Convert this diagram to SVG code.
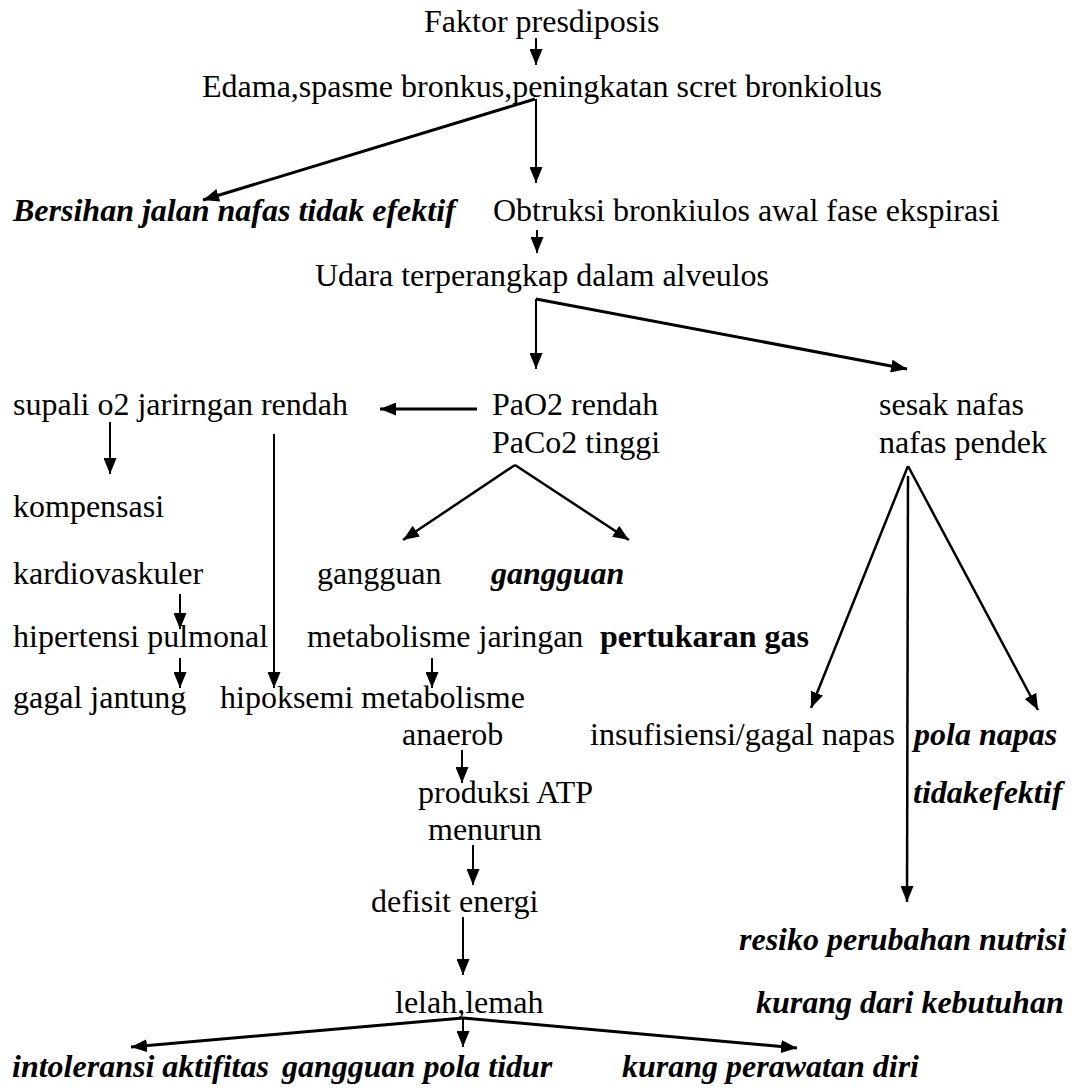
<svg xmlns="http://www.w3.org/2000/svg" width="1078" height="1088" viewBox="0 0 1078 1088">
<defs>
<marker id="ah" markerUnits="userSpaceOnUse" viewBox="0 0 16 13" markerWidth="16" markerHeight="13" refX="16" refY="6.5" orient="auto">
<path d="M0,0 L16,6.5 L0,13 Z" fill="#000"/>
</marker>
<style>
text{font-family:"Liberation Serif","Times New Roman",serif;font-size:32px;fill:#000}
.bi{font-weight:bold;font-style:italic}
.b{font-weight:bold}
.c line{stroke:#000;stroke-width:2;marker-end:url(#ah);fill:none}
.c line.t{stroke-width:3}
.c line.m{stroke-width:2.5}
</style>
</defs>
<rect width="1078" height="1088" fill="#fff"/>
<g font-family="Liberation Serif, Times New Roman, serif">
<g id="n-faktor"><text x="424" y="32">Faktor presdiposis</text></g>
<g id="n-edama"><text x="202" y="97">Edama,spasme bronkus,peningkatan scret bronkiolus</text></g>
<g id="n-bersihan"><text class="bi" x="13" y="221">Bersihan jalan nafas tidak efektif</text></g>
<g id="n-obtruksi"><text x="493" y="221">Obtruksi bronkiulos awal fase ekspirasi</text></g>
<g id="n-udara"><text x="315" y="286">Udara terperangkap dalam alveulos</text></g>
<g id="n-supali"><text x="13" y="415">supali o2 jarirngan rendah</text></g>
<g id="n-pao2"><text x="492" y="415">PaO2 rendah</text><text x="492" y="453">PaCo2 tinggi</text></g>
<g id="n-sesak"><text x="879" y="415">sesak nafas</text><text x="879" y="453">nafas pendek</text></g>
<g id="n-kompensasi"><text x="13" y="517">kompensasi</text><text x="13" y="584">kardiovaskuler</text></g>
<g id="n-gangguan-metab"><text x="317" y="584">gangguan</text><text x="307" y="647">metabolisme jaringan</text></g>
<g id="n-gangguan-gas"><text class="bi" x="491" y="584">gangguan</text><text class="b" x="600" y="647">pertukaran gas</text></g>
<g id="n-hipertensi"><text x="13" y="647">hipertensi pulmonal</text></g>
<g id="n-gagal"><text x="13" y="708">gagal jantung</text></g>
<g id="n-hipoksemi"><text x="220" y="708">hipoksemi metabolisme</text><text x="402" y="745">anaerob</text></g>
<g id="n-insufisiensi"><text x="590" y="745">insufisiensi/gagal napas</text></g>
<g id="n-pola"><text class="bi" x="914" y="745">pola napas</text><text class="bi" x="913" y="803">tidakefektif</text></g>
<g id="n-atp"><text x="418" y="803">produksi ATP</text><text x="428" y="840">menurun</text></g>
<g id="n-defisit"><text x="371" y="912">defisit energi</text></g>
<g id="n-nutrisi"><text class="bi" x="739" y="950">resiko perubahan nutrisi</text><text class="bi" x="756" y="1013">kurang dari kebutuhan</text></g>
<g id="n-lelah"><text x="395" y="1013">lelah,lemah</text></g>
<g id="n-intoleransi"><text class="bi" x="12" y="1077">intoleransi aktifitas</text></g>
<g id="n-tidur"><text class="bi" x="282" y="1077">gangguan pola tidur</text></g>
<g id="n-perawatan"><text class="bi" x="622" y="1077">kurang perawatan diri</text></g>
</g>
<g id="connectors" class="c">
<line x1="536" y1="38" x2="536" y2="65"/>
<line x1="536" y1="99" x2="536" y2="183"/>
<line class="t" x1="535" y1="99" x2="203" y2="200"/>
<line x1="537" y1="230" x2="537" y2="253"/>
<line x1="536" y1="299" x2="536" y2="369"/>
<line class="t" x1="536" y1="299" x2="907" y2="369"/>
<line class="t" x1="477" y1="409" x2="380" y2="409"/>
<line x1="110" y1="422" x2="110" y2="474"/>
<line x1="274" y1="434" x2="274" y2="688"/>
<line class="m" x1="515" y1="465" x2="403" y2="540"/>
<line class="m" x1="515" y1="465" x2="629" y2="540"/>
<line x1="180" y1="594" x2="180" y2="629"/>
<line x1="180" y1="658" x2="180" y2="688"/>
<line x1="432" y1="658" x2="432" y2="688"/>
<line class="m" x1="908" y1="466" x2="811" y2="708"/>
<line class="m" x1="908" y1="476" x2="907" y2="902"/>
<line class="m" x1="908" y1="466" x2="1038" y2="710"/>
<line x1="462" y1="750" x2="462" y2="783"/>
<line x1="473" y1="845" x2="473" y2="885"/>
<line x1="463" y1="917" x2="463" y2="975"/>
<line class="t" x1="463" y1="1018" x2="131" y2="1047"/>
<line x1="463" y1="1018" x2="463" y2="1047"/>
<line class="t" x1="463" y1="1018" x2="797" y2="1048"/>
</g>
</svg>
